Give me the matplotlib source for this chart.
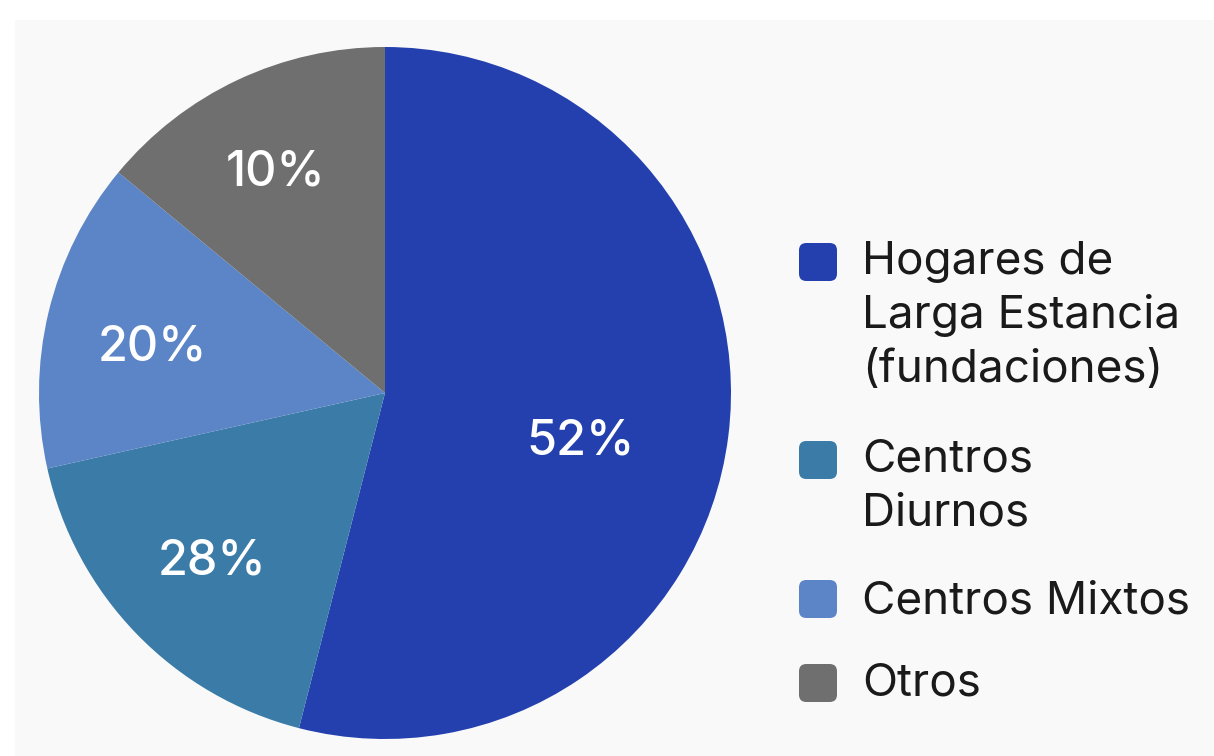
import numpy as np
import matplotlib
matplotlib.use("Agg")
import matplotlib.pyplot as plt
from matplotlib.patches import FancyBboxPatch, Rectangle

plt.rcParams["font.family"] = ["Inter", "DejaVu Sans"]

categories = [["Hogares de", "Larga Estancia", "(fundaciones)"],
              ["Centros", "Diurnos"],
              ["Centros Mixtos"],
              ["Otros"]]
shares = [54, 17.5, 14.5, 14]
pct_labels = ["52%", "28%", "20%", "10%"]
colors = ["#2340ae", "#3a7ba8", "#5b85c6", "#6f6f6f"]

W, H = 1214, 756
fig = plt.figure(figsize=(W / 100, H / 100), dpi=100)
fig.patch.set_facecolor("white")
fig.add_artist(Rectangle((15 / W, 0), 1, (H - 20) / H, transform=fig.transFigure,
                         facecolor="#f9f9f9", edgecolor="none", zorder=0))

# pie axes: centre (385, 393) px, radius 346 px
cx, cy, r = 385, 393, 346
ax = fig.add_axes([(cx - r) / W, (H - cy - r) / H, 2 * r / W, 2 * r / H])
ax.set_facecolor("none")
wedges, _ = ax.pie(shares, colors=colors, startangle=90, counterclock=False,
                   radius=1, wedgeprops=dict(linewidth=0))
ax.set_xlim(-1, 1)
ax.set_ylim(-1, 1)
ax.axis("off")

# label placement (angle in degrees, distance from centre) as seen in the picture
label_pos = [(-12.7, 0.578), (-136.5, 0.689), (167.9, 0.689), (116.0, 0.724)]
cap_half = 17.5 / r
for txt, (ang, d) in zip(pct_labels, label_pos):
    a = np.deg2rad(ang)
    ax.text(d * np.cos(a), d * np.sin(a) - cap_half, txt, ha="center", va="baseline",
            color="white", fontsize=35, fontweight="medium")

# legend drawn by hand in pixel positions
box_y = [262, 460, 599, 683]
first_base = [274, 472, 613, 695]
line_step = 54
for lines, col, y, b in zip(categories, colors, box_y, first_base):
    fig.add_artist(FancyBboxPatch((799 / W, (H - y - 19) / H), 38 / W, 38 / H,
                                  boxstyle="round,pad=0,rounding_size=0.006",
                                  transform=fig.transFigure, facecolor=col,
                                  edgecolor="none", mutation_aspect=W / H))
    for i, line in enumerate(lines):
        fig.text(862 / W, (H - b - i * line_step) / H, line, ha="left",
                 va="baseline", fontsize=33, color="#1a1a1a")

fig.savefig("out.png", dpi=100)
